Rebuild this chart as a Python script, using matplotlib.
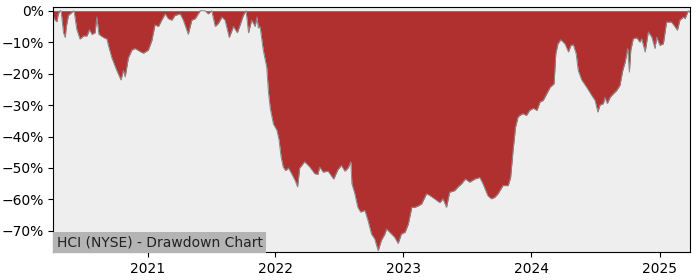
import matplotlib
matplotlib.use("Agg")
import matplotlib.pyplot as plt
import matplotlib.dates as mdates
from matplotlib.ticker import PercentFormatter
import pandas as pd

dates = [
    "2020-04-07", "2020-04-12", "2020-04-17", "2020-04-21", "2020-04-26", "2020-04-29",
    "2020-05-06", "2020-05-11", "2020-05-14", "2020-05-20", "2020-05-30", "2020-06-05",
    "2020-06-13", "2020-06-22", "2020-07-02", "2020-07-12", "2020-07-19", "2020-07-26",
    "2020-08-04", "2020-08-09", "2020-08-15", "2020-08-28", "2020-09-07", "2020-09-11",
    "2020-09-21", "2020-10-05", "2020-10-17", "2020-10-24", "2020-10-29", "2020-11-07",
    "2020-11-17", "2020-11-26", "2020-12-11", "2020-12-20", "2021-01-03", "2021-01-13",
    "2021-01-22", "2021-02-01", "2021-02-10", "2021-02-20", "2021-03-01", "2021-03-11",
    "2021-03-20", "2021-04-04", "2021-04-13", "2021-04-27", "2021-05-07", "2021-05-17",
    "2021-05-31", "2021-06-14", "2021-06-23", "2021-07-03", "2021-07-13", "2021-07-22",
    "2021-08-01", "2021-08-10", "2021-08-22", "2021-09-03", "2021-09-14", "2021-09-22",
    "2021-10-01", "2021-10-09", "2021-10-16", "2021-10-25", "2021-11-04", "2021-11-09",
    "2021-11-13", "2021-11-18", "2021-11-27", "2021-12-07", "2021-12-12", "2021-12-17",
    "2021-12-26", "2022-01-05", "2022-01-11", "2022-01-17", "2022-01-23", "2022-01-30",
    "2022-02-07", "2022-02-16", "2022-02-26", "2022-03-05", "2022-03-11", "2022-03-25",
    "2022-04-09", "2022-04-23", "2022-05-02", "2022-05-07", "2022-05-17", "2022-05-31",
    "2022-06-16", "2022-06-28", "2022-07-08", "2022-07-18", "2022-07-27", "2022-08-04",
    "2022-08-07", "2022-08-15", "2022-08-24", "2022-09-01", "2022-09-13", "2022-09-22",
    "2022-10-02", "2022-10-11", "2022-10-21", "2022-10-30", "2022-11-09", "2022-11-14",
    "2022-11-28", "2022-12-07", "2022-12-17", "2022-12-26", "2023-01-06", "2023-01-15",
    "2023-01-25", "2023-02-03", "2023-02-13", "2023-02-22", "2023-03-08", "2023-03-17",
    "2023-03-31", "2023-04-15", "2023-04-24", "2023-05-04", "2023-05-13", "2023-05-27",
    "2023-06-06", "2023-06-16", "2023-06-27", "2023-07-09", "2023-07-24", "2023-08-07",
    "2023-08-16", "2023-08-30", "2023-09-09", "2023-09-19", "2023-09-28", "2023-10-12",
    "2023-10-27", "2023-11-03", "2023-11-10", "2023-11-17", "2023-11-24", "2023-11-29",
    "2023-12-08", "2023-12-18", "2023-12-27", "2024-01-07", "2024-01-17", "2024-01-26",
    "2024-02-04", "2024-02-14", "2024-02-24", "2024-03-06", "2024-03-11", "2024-03-17",
    "2024-03-25", "2024-04-06", "2024-04-16", "2024-04-23", "2024-04-30", "2024-05-08",
    "2024-05-14", "2024-05-24", "2024-06-07", "2024-06-22", "2024-07-01", "2024-07-09",
    "2024-07-15", "2024-07-25", "2024-07-29", "2024-08-05", "2024-08-13", "2024-08-22",
    "2024-09-01", "2024-09-10", "2024-09-18", "2024-09-25", "2024-10-02", "2024-10-07",
    "2024-10-11", "2024-10-18", "2024-10-28", "2024-11-06", "2024-11-11", "2024-11-21",
    "2024-11-30", "2024-12-10", "2024-12-19", "2024-12-24", "2025-01-02", "2025-01-12",
    "2025-01-21", "2025-02-04", "2025-02-11", "2025-02-21", "2025-02-28", "2025-03-10",
    "2025-03-15", "2025-03-24", "2025-03-28",
]

drawdown_pct = [
    -1.5, -3.0, -3.5, -1.0, 0.0, 0.0,
    -7.0, -8.5, -5.0, -1.5, -0.5, 0.0,
    -6.0, -9.0, -8.0, -8.0, -6.0, -7.5,
    -7.0, -2.0, -7.5, -8.5, -9.0, -11.0,
    -15.0, -19.0, -22.0, -19.0, -21.0, -15.0,
    -12.5, -12.0, -13.0, -13.5, -12.5, -9.5,
    -4.5, -5.0, -3.0, -1.0, -2.5, -3.0,
    -1.5, -1.0, -3.0, -7.5, -3.0, -2.5,
    0.0, 0.0, -1.0, 0.0, -5.0, -4.0,
    -2.0, -3.0, -8.5, -5.0, -7.0, -4.5,
    -1.5, 0.0, -7.0, -3.0, -5.0, -2.0,
    -5.5, -5.0, -12.5, -18.0, -26.0, -31.0,
    -36.0, -38.0, -41.0, -46.5, -49.7, -50.8,
    -50.0, -51.8, -54.0, -56.0, -50.0, -48.0,
    -49.7, -51.8, -52.0, -49.7, -51.3, -51.0,
    -53.5, -50.5, -49.2, -51.0, -50.0, -48.0,
    -55.0, -58.0, -62.5, -64.0, -63.5, -66.7,
    -71.0, -72.5, -76.3, -73.0, -71.0, -69.4,
    -71.0, -72.0, -74.0, -71.0, -70.4, -67.8,
    -62.5, -62.5, -62.0, -61.4, -58.2, -58.7,
    -59.8, -61.0, -59.8, -62.5, -57.7, -57.2,
    -56.0, -55.0, -53.5, -54.5, -53.5, -53.0,
    -55.0, -58.8, -59.8, -59.3, -58.2, -55.6,
    -55.6, -53.0, -44.4, -37.0, -33.8, -33.3,
    -32.7, -33.3, -31.7, -31.0, -31.7, -29.0,
    -28.5, -26.4, -24.3, -23.2, -13.6, -10.5,
    -9.2, -10.5, -13.1, -11.0, -10.8, -13.6,
    -19.0, -22.0, -24.3, -27.0, -28.5, -32.2,
    -30.0, -29.5, -27.5, -29.5, -27.5, -26.4,
    -25.3, -23.7, -19.0, -16.3, -12.0, -19.5,
    -12.5, -8.9, -8.6, -10.0, -8.9, -13.1,
    -6.7, -8.4, -12.0, -8.4, -11.0, -10.5,
    -3.6, -3.6, -4.6, -6.2, -3.0, -2.0,
    -2.5, 0.0, -0.5,
]

title_text = "HCI (NYSE) - Drawdown Chart"
x = pd.to_datetime(dates)
y = [v / 100.0 for v in drawdown_pct]

fig = plt.figure(figsize=(7.0, 2.8), dpi=100)
ax = fig.add_axes([0.0762, 0.099, 0.9095, 0.875])
ax.set_facecolor("#eeeeee")
ax.fill_between(x, 0, y, color="#b03030", linewidth=0)
ax.plot(x, y, color="#888888", linewidth=0.7)

ax.set_xlim(pd.Timestamp("2020-04-07"), pd.Timestamp("2025-03-29"))
ax.set_ylim(-0.768, 0.011)
ax.yaxis.set_major_formatter(PercentFormatter(1.0, decimals=0))
ax.set_yticks([0, -0.1, -0.2, -0.3, -0.4, -0.5, -0.6, -0.7])
ax.xaxis.set_major_locator(mdates.YearLocator())
ax.xaxis.set_major_formatter(mdates.DateFormatter("%Y"))
ax.tick_params(labelsize=10)

ax.text(0.005, 0.012, title_text, transform=ax.transAxes, fontsize=10,
        ha="left", va="bottom", color="#222222",
        bbox=dict(facecolor="#b4b4b4", edgecolor="none", pad=2.3))

fig.savefig("out.png", dpi=100)
